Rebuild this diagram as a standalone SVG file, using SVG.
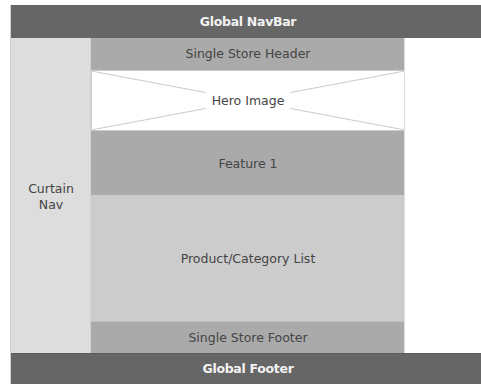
<svg xmlns="http://www.w3.org/2000/svg" width="481" height="384" viewBox="0 0 481 384">
<style>
text{font-family:"DejaVu Sans","Liberation Sans",sans-serif;font-size:12.5px;text-anchor:middle;fill:#444}
.w{fill:#f2f2f2;font-size:12.5px;font-weight:bold;letter-spacing:-0.3px}
</style>
<rect x="0" y="0" width="481" height="384" fill="#fff"/>
<g id="curtain-nav">
<rect x="10" y="38" width="81" height="315" fill="#dddddd"/>
<line x1="10.5" y1="5" x2="10.5" y2="384" stroke="#cfcfcf"/>
<line x1="90.5" y1="38" x2="90.5" y2="353" stroke="#d2d2d2"/>
<text x="51" y="193">Curtain</text>
<text x="51" y="209">Nav</text>
</g>
<g id="global-navbar">
<rect x="11" y="5" width="470" height="33" fill="#666666"/>
<text class="w" x="248" y="26">Global NavBar</text>
</g>
<g id="store-header">
<rect x="91" y="38" width="314" height="32" fill="#aaaaaa"/>
<text x="248" y="58">Single Store Header</text>
</g>
<g id="hero-image">
<rect x="91.5" y="70.5" width="313" height="60" fill="#fff" stroke="#cccccc"/>
<line x1="91" y1="71" x2="405" y2="130" stroke="#cccccc"/>
<line x1="91" y1="130" x2="405" y2="71" stroke="#cccccc"/>
<rect x="206" y="92" width="84" height="18" fill="#fff"/>
<text x="248" y="105">Hero Image</text>
</g>
<g id="feature-1">
<rect x="91" y="131" width="314" height="64" fill="#aaaaaa"/>
<text x="248" y="168">Feature 1</text>
</g>
<g id="product-list">
<rect x="91" y="195" width="314" height="126" fill="#cccccc"/>
<text x="248" y="263">Product/Category List</text>
</g>
<g id="store-footer">
<rect x="91" y="321" width="314" height="32" fill="#aaaaaa"/>
<line x1="91" y1="321.5" x2="405" y2="321.5" stroke="#c2c2c2"/>
<text x="248" y="342">Single Store Footer</text>
</g>
<line x1="404.5" y1="38" x2="404.5" y2="353" stroke="#dddddd"/>
<g id="global-footer">
<rect x="11" y="353" width="470" height="31" fill="#666666"/>
<line x1="11" y1="353.5" x2="481" y2="353.5" stroke="#5c5c5c"/>
<text class="w" x="248" y="373">Global Footer</text>
</g>
<g id="connectors"></g>
</svg>
